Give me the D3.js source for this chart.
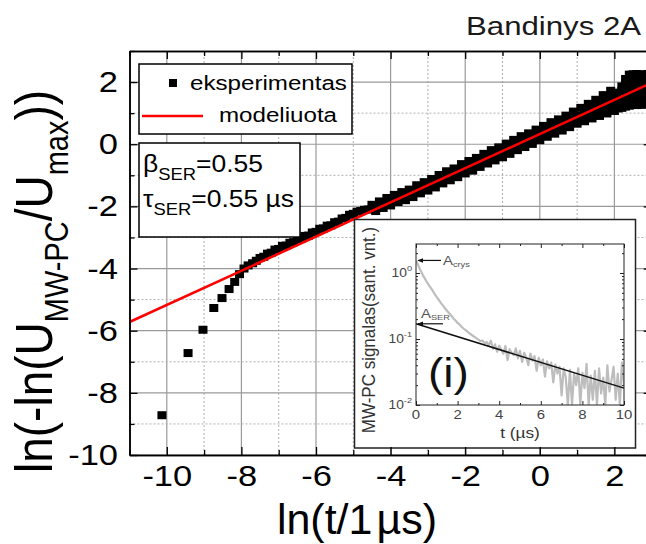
<!DOCTYPE html>
<html>
<head>
<meta charset="utf-8">
<script src="https://cdn.jsdelivr.net/npm/d3@7"></script>
<style>
  html, body { margin: 0; padding: 0; background: #fff; }
  svg { display: block; font-family: "Liberation Sans", Arial, sans-serif; }
</style>
</head>
<body>
<svg id="chart" width="646" height="544"></svg>
<script>
// ---- main plot: ln(-ln(U/Umax)) versus ln(t) ----
const xMajor = [-10, -8, -6, -4, -2, 0, 2];
const xMinor = [-11, -9, -7, -5, -3, -1, 1, 3];
const yMajor = [-10, -8, -6, -4, -2, 0, 2];
const yMinor = [-9, -7, -5, -3, -1, 1, 3];

// stretched-exponential fit parameters
const betaSER = 0.55;
const tauSER = 0.55; // µs
const modelLnT = [-11, 3];

// measured points [ln(t/1µs), ln(-ln(U/Umax))]
const experimentPoints = [
  [-10.13,-8.72],[-9.43,-6.72],[-9.03,-5.97],[-8.74,-5.27],[-8.52,-4.95],[-8.33,-4.66],
  [-8.18,-4.43],[-8.05,-4.18],[-7.93,-4.00],[-7.82,-3.90],
  [-7.7,-3.83],[-7.6,-3.75],[-7.5,-3.66],[-7.4,-3.62],[-7.3,-3.52],[-7.2,-3.49],[-7.1,-3.39],
  [-7.0,-3.37],[-6.9,-3.27],[-6.8,-3.26],[-6.7,-3.17],[-6.6,-3.15],[-6.5,-3.05],[-6.4,-3.04],
  [-6.3,-2.95],[-6.2,-2.94],[-6.1,-2.84],[-6.0,-2.82],[-5.9,-2.72],[-5.8,-2.71],[-5.7,-2.62],
  [-5.6,-2.61],[-5.5,-2.51],[-5.4,-2.49],[-5.3,-2.39],[-5.2,-2.37],[-5.1,-2.27],[-5.0,-2.24],
  [-4.9,-2.17],[-4.8,-2.15],[-4.7,-2.11],[-4.6,-2.10],
  [-4.5,-1.95],[-4.5,-2.09],[-4.4,-2.00],[-4.4,-2.15],[-4.3,-1.84],[-4.3,-2.00],
  [-4.2,-1.91],[-4.2,-2.05],[-4.1,-1.73],[-4.1,-1.90],[-4.0,-1.81],[-4.0,-1.97],
  [-3.9,-1.63],[-3.9,-1.81],[-3.8,-1.71],[-3.8,-1.86],[-3.7,-1.54],[-3.7,-1.71],
  [-3.6,-1.62],[-3.6,-1.80],[-3.5,-1.46],[-3.5,-1.62],[-3.4,-1.52],[-3.4,-1.70],
  [-3.3,-1.32],[-3.3,-1.51],[-3.2,-1.41],[-3.2,-1.58],[-3.1,-1.22],[-3.1,-1.40],
  [-3.0,-1.30],[-3.0,-1.49],[-2.9,-1.12],[-2.9,-1.29],[-2.8,-1.19],[-2.8,-1.39],
  [-2.7,-0.99],[-2.7,-1.18],[-2.6,-1.08],[-2.6,-1.26],[-2.5,-0.87],[-2.5,-1.07],
  [-2.4,-0.97],[-2.4,-1.16],[-2.3,-0.78],[-2.3,-0.96],[-2.2,-0.86],[-2.2,-1.06],
  [-2.1,-0.64],[-2.1,-0.85],[-2.0,-0.75],[-2.0,-0.94],[-1.9,-0.54],[-1.9,-0.74],
  [-1.8,-0.64],[-1.8,-0.85],[-1.7,-0.44],[-1.7,-0.63],[-1.6,-0.53],[-1.6,-0.73],
  [-1.5,-0.31],[-1.5,-0.52],[-1.4,-0.42],[-1.4,-0.62],[-1.3,-0.19],[-1.3,-0.41],
  [-1.2,-0.31],[-1.2,-0.52],[-1.1,-0.10],[-1.1,-0.30],[-1.0,-0.20],[-1.0,-0.42],
  [-0.9,0.02],[-0.9,-0.19],[-0.8,-0.09],[-0.8,-0.31],[-0.7,0.14],[-0.7,-0.08],
  [-0.6,0.02],[-0.6,-0.19],[-0.5,0.26],[-0.5,0.03],[-0.4,0.13],[-0.4,-0.09],
  [-0.3,0.35],[-0.3,0.14],[-0.2,0.24],[-0.2,0.01],[-0.1,0.47],[-0.1,0.25],
  [0.0,0.35],[0.0,0.13],[0.1,0.59],[0.1,0.36],[0.2,0.46],[0.2,0.24],
  [0.3,0.71],[0.3,0.47],[0.4,0.57],[0.4,0.34],[0.5,0.80],[0.5,0.58],
  [0.6,0.68],[0.6,0.44],[0.7,0.92],[0.7,0.69],[0.8,0.79],[0.8,0.55],
  [0.9,1.05],[0.9,0.80],[1.0,0.90],[1.0,0.66],[1.1,1.17],[1.1,0.91],
  [1.2,1.01],[1.2,0.86],[1.2,0.74],[1.3,1.30],[1.3,1.17],[1.3,1.02],
  [1.4,1.12],[1.4,0.96],[1.4,0.83],[1.5,1.43],[1.5,1.29],[1.5,1.13],
  [1.6,1.23],[1.6,1.06],[1.6,0.91],[1.7,1.58],[1.7,1.42],[1.7,1.24],
  [1.8,1.34],[1.8,1.15],[1.8,0.99],[1.9,1.72],[1.9,1.55],[1.9,1.35],
  [2.0,1.45],[2.0,1.25],[2.0,1.07],
  [2.1,1.15],[2.1,1.33],[2.1,1.50],[2.1,1.66],
  [2.2,1.17],[2.2,1.37],[2.2,1.56],[2.2,1.72],[2.2,1.86],
  [2.3,1.21],[2.3,1.41],[2.3,1.61],[2.3,1.80],[2.3,1.97],[2.3,2.10],
  [2.4,1.24],[2.4,1.44],[2.4,1.64],[2.4,1.84],[2.4,2.04],[2.4,2.24],
  [2.5,1.27],[2.5,1.47],[2.5,1.67],[2.5,1.87],[2.5,2.07],[2.5,2.25],
  [2.6,1.26],[2.6,1.46],[2.6,1.66],[2.6,1.86],[2.6,2.06],[2.6,2.26],
  [2.7,1.28],[2.7,1.48],[2.7,1.68],[2.7,1.88],[2.7,2.08],[2.7,2.25],
  [2.8,1.27],[2.8,1.47],[2.8,1.67],[2.8,1.87],[2.8,2.07],[2.8,2.24],
  [2.9,1.29],[2.9,1.49],[2.9,1.69],[2.9,1.89],[2.9,2.09],[2.9,2.26],
  [3.0,1.30],[3.0,1.50],[3.0,1.70],[3.0,1.90],[3.0,2.10],[3.0,2.27]
];

// ---- inset: MW-PC transient on a log scale ----
const insetXTicks = [0, 2, 4, 6, 8, 10];
const insetXMinor = [1, 3, 5, 7, 9];
const insetYTicks = [0.01, 0.1, 1];
const insetYTickExp = ["-2", "-1", "0"];
const insetYMinor = [0.02,0.03,0.04,0.05,0.06,0.07,0.08,0.09,0.2,0.3,0.4,0.5,0.6,0.7,0.8,0.9,2];
const insetTime = [
  0.0,0.1,0.2,0.3,0.4,0.5,0.6,0.7,0.8,0.9,1.0,1.1,1.2,1.3,1.4,1.5,1.6,1.7,1.8,1.9,
  2.0,2.1,2.2,2.3,2.4,2.5,2.6,2.7,2.8,2.9,3.0,3.1,3.2,3.3,3.4,3.5,3.6,3.7,3.8,3.9,
  4.0,4.1,4.2,4.3,4.4,4.5,4.6,4.7,4.8,4.9,5.0,5.1,5.2,5.3,5.4,5.5,5.6,5.7,5.8,5.9,
  6.0,6.1,6.2,6.3,6.4,6.5,6.6,6.7,6.8,6.9,7.0,7.1,7.2,7.3,7.4,7.5,7.6,7.7,7.8,7.9,
  8.0,8.1,8.2,8.3,8.4,8.5,8.6,8.7,8.8,8.9,9.0,9.1,9.2,9.3,9.4,9.5,9.6,9.7,9.8,9.9,10.0
];
const insetSignal = [
  1.55,1.32,1.12,0.97,0.85,0.75,0.67,0.60,0.54,0.48,0.43,0.39,0.35,0.32,0.29,0.265,0.245,0.225,0.205,0.19,
  0.175,0.165,0.152,0.143,0.135,0.127,0.12,0.114,0.108,0.103,0.098,0.093,0.095,0.086,0.090,0.080,0.094,0.071,0.083,0.064,
  0.079,0.068,0.060,0.078,0.048,0.070,0.062,0.057,0.072,0.051,0.066,0.045,0.062,0.052,0.040,0.060,0.047,0.055,0.033,0.052,
  0.040,0.049,0.027,0.046,0.036,0.044,0.022,0.041,0.030,0.038,0.014,0.036,0.026,0.010,0.034,0.010,0.030,0.020,0.036,0.010,
  0.031,0.018,0.042,0.010,0.028,0.012,0.033,0.010,0.036,0.015,0.026,0.010,0.040,0.016,0.024,0.038,0.012,0.030,0.010,0.044,0.020
];
const insetFitT = [0, 10];
const insetFitS = [0.17, 0.018];

// ------------------------------------------------------------------
const svg = d3.select("#chart");
const SX = 1.15; // horizontal widening of the lettering

const x = d3.scaleLinear().domain([-11, 3]).range([129.5, 651.7]);
const y = d3.scaleLinear().domain([-10, 3]).range([455, 51]);

const defs = svg.append("defs");
defs.append("clipPath").attr("id", "plotClip").append("rect")
  .attr("x", x(-11)).attr("y", y(3))
  .attr("width", x(3) - x(-11)).attr("height", y(-10) - y(3));

// text placed at (px,py) and widened horizontally
function textAt(parent, px, py, size, opts = {}) {
  const sx = opts.sx ?? SX;
  let tr = `translate(${px},${py}) scale(${sx},1)`;
  if (opts.rotate) tr += ` rotate(${opts.rotate})`;
  return parent.append("g").attr("transform", tr)
    .append("text")
    .attr("font-size", size)
    .attr("text-anchor", opts.anchor || "start")
    .attr("fill", opts.fill || "#000");
}

// grid
const grid = svg.append("g").attr("clip-path", "url(#plotClip)");
grid.selectAll(".vmaj").data(xMajor).join("line")
  .attr("x1", d => x(d)).attr("x2", d => x(d)).attr("y1", y(-10)).attr("y2", y(3))
  .attr("stroke", "#9a9a9a").attr("stroke-width", 1.2);
grid.selectAll(".vmin").data(xMinor).join("line")
  .attr("x1", d => x(d)).attr("x2", d => x(d)).attr("y1", y(-10)).attr("y2", y(3))
  .attr("stroke", "#b0b0b0").attr("stroke-width", 1).attr("stroke-dasharray", "2,2");
grid.selectAll(".hmaj").data(yMajor).join("line")
  .attr("x1", x(-11)).attr("x2", x(3)).attr("y1", d => y(d)).attr("y2", d => y(d))
  .attr("stroke", "#9a9a9a").attr("stroke-width", 1.2);
grid.selectAll(".hmin").data(yMinor).join("line")
  .attr("x1", x(-11)).attr("x2", x(3)).attr("y1", d => y(d)).attr("y2", d => y(d))
  .attr("stroke", "#b0b0b0").attr("stroke-width", 1).attr("stroke-dasharray", "2,2");

// measured points
const data = svg.append("g").attr("clip-path", "url(#plotClip)");
data.selectAll("rect").data(experimentPoints).join("rect")
  .attr("x", d => x(d[0]) - 4.5).attr("y", d => y(d[1]) - 4)
  .attr("width", 9).attr("height", 8).attr("fill", "#000");

// model line: ln(-ln(U/Umax)) = beta * (ln t - ln tau)
const modelLine = d3.line().x(d => x(d[0])).y(d => y(d[1]));
data.append("path")
  .datum(modelLnT.map(t => [t, betaSER * (t - Math.log(tauSER))]))
  .attr("d", modelLine).attr("fill", "none")
  .attr("stroke", "#ff0000").attr("stroke-width", 2.6);

// legend
const leg = svg.append("g");
leg.append("rect").attr("x", 139).attr("y", 64).attr("width", 213).attr("height", 70)
  .attr("fill", "#fff").attr("stroke", "#000").attr("stroke-width", 1.5);
leg.append("rect").attr("x", 169).attr("y", 79).attr("width", 8).attr("height", 8).attr("fill", "#000");
textAt(leg, 190, 90, 21).text("eksperimentas");
leg.append("line").attr("x1", 142).attr("x2", 203).attr("y1", 116).attr("y2", 116)
  .attr("stroke", "#ff0000").attr("stroke-width", 2.6);
textAt(leg, 219, 122, 21).text("modeliuota");

const par = svg.append("g");
par.append("rect").attr("x", 139).attr("y", 143).attr("width", 161).attr("height", 94)
  .attr("fill", "#fff").attr("stroke", "#000").attr("stroke-width", 1.5);
{
  const t1 = textAt(par, 143, 172, 23);
  t1.append("tspan").text("β");
  t1.append("tspan").attr("font-size", 16).attr("dy", 8).text("SER");
  t1.append("tspan").attr("dy", -8).text("=" + betaSER.toFixed(2));
  const t2 = textAt(par, 143, 207, 23);
  t2.append("tspan").text("τ");
  t2.append("tspan").attr("font-size", 16).attr("dy", 8).text("SER");
  t2.append("tspan").attr("dy", -8).text("=" + tauSER.toFixed(2) + " µs");
}

// ---- inset ----
const ix = d3.scaleLinear().domain([0, 10]).range([416, 624]);
const iy = d3.scaleLog().domain([0.01, 2.75]).range([405, 244]);
const inset = svg.append("g");
inset.append("rect").attr("x", 354.5).attr("y", 219.5).attr("width", 281).attr("height", 228.5)
  .attr("fill", "#fff").attr("stroke", "#222").attr("stroke-width", 1.5);

defs.append("clipPath").attr("id", "insetClip").append("rect")
  .attr("x", 416).attr("y", 244).attr("width", 208).attr("height", 161);

const sig = insetTime.map((t, i) => [t, Math.max(insetSignal[i], 0.01)]);
inset.append("path").datum(sig)
  .attr("clip-path", "url(#insetClip)")
  .attr("d", d3.line().x(d => ix(d[0])).y(d => iy(d[1])))
  .attr("fill", "none").attr("stroke", "#bdbdbd").attr("stroke-width", 2.2)
  .attr("stroke-linejoin", "round");
inset.append("path").datum(insetFitT.map((t, i) => [t, insetFitS[i]]))
  .attr("d", d3.line().x(d => ix(d[0])).y(d => iy(d[1])))
  .attr("fill", "none").attr("stroke", "#111").attr("stroke-width", 1.5);

// inset frame and ticks
inset.append("rect").attr("x", 416).attr("y", 244).attr("width", 208).attr("height", 161)
  .attr("fill", "none").attr("stroke", "#222").attr("stroke-width", 1);
function insetAxis(axis, tx, ty, values, size) {
  const g = inset.append("g").attr("transform", `translate(${tx},${ty})`)
    .call(axis.tickValues(values).tickSize(size).tickSizeOuter(0).tickFormat(""));
  g.select(".domain").remove();
  g.selectAll("line").attr("stroke", "#222");
  return g;
}
insetAxis(d3.axisBottom(ix), 0, 405, insetXTicks, -4);
insetAxis(d3.axisBottom(ix), 0, 405, insetXMinor, -2);
insetAxis(d3.axisTop(ix), 0, 244, insetXTicks, -4);
insetAxis(d3.axisTop(ix), 0, 244, insetXMinor, -2);
insetAxis(d3.axisLeft(iy), 416, 0, insetYTicks, -4);
insetAxis(d3.axisLeft(iy), 416, 0, insetYMinor, -2);
insetAxis(d3.axisRight(iy), 624, 0, insetYTicks, -4);
insetAxis(d3.axisRight(iy), 624, 0, insetYMinor, -2);

insetXTicks.forEach(v => {
  textAt(inset, ix(v), 419, 13, { anchor: "middle", fill: "#444" }).text(v);
});
insetYTicks.forEach((v, i) => {
  const t = textAt(inset, 412, iy(v) + 4, 12, { anchor: "end", fill: "#444" });
  t.append("tspan").text("10");
  t.append("tspan").attr("font-size", 8).attr("dy", -6).text(insetYTickExp[i]);
});
textAt(inset, 520, 438, 15, { anchor: "middle", fill: "#333" }).text("t (µs)");
textAt(inset, 375, 330, 17, { anchor: "middle", fill: "#333", rotate: -90, sx: 1.1 })
  .text("MW-PC signalas(sant. vnt.)");
textAt(inset, 428, 387, 40, { fill: "#111" }).text("(i)");

// amplitude markers
defs.append("marker").attr("id", "arrowHead").attr("viewBox", "0 0 10 10")
  .attr("refX", 9).attr("refY", 5).attr("markerWidth", 5).attr("markerHeight", 5)
  .attr("orient", "auto")
  .append("path").attr("d", "M0,1 L10,5 L0,9 Z").attr("fill", "#111");
const aCrysY = iy(insetSignal[0]);
const aSerY = iy(insetFitS[0]);
inset.append("line").attr("x1", 441).attr("x2", 418).attr("y1", aCrysY).attr("y2", aCrysY)
  .attr("stroke", "#111").attr("stroke-width", 1.2).attr("marker-end", "url(#arrowHead)");
inset.append("line").attr("x1", 443).attr("x2", 418).attr("y1", aSerY).attr("y2", aSerY)
  .attr("stroke", "#111").attr("stroke-width", 1.2).attr("marker-end", "url(#arrowHead)");
{
  const a1 = textAt(inset, 443, aCrysY + 5, 13, { fill: "#555" });
  a1.append("tspan").text("A");
  a1.append("tspan").attr("font-size", 8).attr("dy", 2).text("crys");
  const a2 = textAt(inset, 421, aSerY - 6, 13, { fill: "#555" });
  a2.append("tspan").text("A");
  a2.append("tspan").attr("font-size", 8).attr("dy", 2).text("SER");
}

// ---- main axes ----
function mainAxis(axis, tx, ty, values, size, labels) {
  const g = svg.append("g").attr("transform", `translate(${tx},${ty})`)
    .call(axis.tickValues(values).tickSize(size).tickSizeOuter(0)
      .tickFormat(labels ? (d => String(d)) : ""));
  g.select(".domain").attr("stroke", "#000").attr("stroke-width", 1.5);
  g.selectAll(".tick line").attr("stroke", "#000").attr("stroke-width", 1.3);
  g.selectAll("text").attr("font-size", 30).attr("fill", "#000")
    .attr("font-family", '"Liberation Sans", Arial, sans-serif')
    .attr("transform", `scale(${SX},1)`);
  return g;
}
mainAxis(d3.axisBottom(x).tickPadding(10), 0, y(-10), xMajor, -8, true);
mainAxis(d3.axisBottom(x), 0, y(-10), xMinor, -5, false);
mainAxis(d3.axisTop(x), 0, y(3), xMajor, -8, false);
mainAxis(d3.axisTop(x), 0, y(3), xMinor, -5, false);
mainAxis(d3.axisLeft(y).tickPadding(10), x(-11), 0, yMajor, -8, true);
mainAxis(d3.axisLeft(y), x(-11), 0, yMinor, -5, false);
mainAxis(d3.axisRight(y), x(3), 0, yMajor, -8, false);

// titles
textAt(svg, 466, 35, 26, { sx: 1.2, fill: "#1a1a1a" }).text("Bandinys 2A");
{
  const xt = textAt(svg, 357, 534, 43, { anchor: "middle", sx: 1.0 });
  xt.append("tspan").text("ln(t/1");
  xt.append("tspan").attr("dx", 4).text("µs)");
  const yt = textAt(svg, 52, 473, 46, { rotate: -90, sx: 1.12 });
  yt.append("tspan").text("ln(-ln(U");
  yt.append("tspan").attr("font-size", 29).attr("dy", 14).text("MW-PC");
  yt.append("tspan").attr("dy", -14).text("/U");
  yt.append("tspan").attr("font-size", 29).attr("dy", 14).text("max");
  yt.append("tspan").attr("dy", -14).text("))");
}
</script>
</body>
</html>
